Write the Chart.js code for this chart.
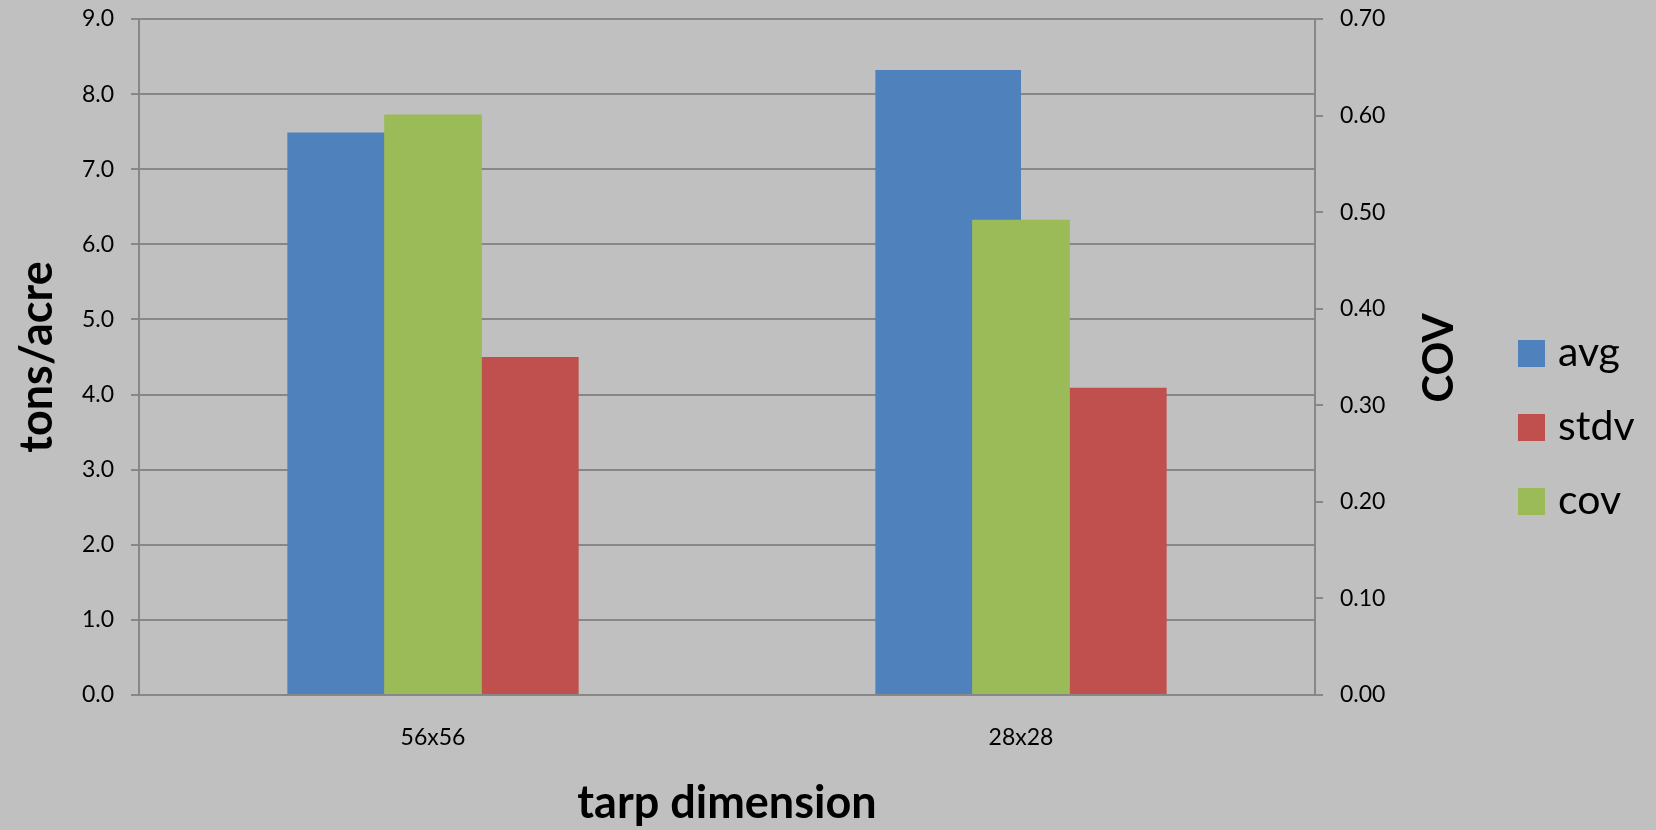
<!DOCTYPE html>
<html>
<head>
<meta charset="utf-8">
<script src="https://cdn.jsdelivr.net/npm/chart.js@4.4.0/dist/chart.umd.min.js"></script>
<style>
  body { margin: 0; background: #c0c0c0; }
  #wrap { width: 1656px; height: 830px; position: relative; }
</style>
</head>
<body>
<div id="wrap"><canvas id="chart"></canvas></div>
<script>
// data
const categories = ["56x56", "28x28"];
const avgValues = [7.49, 8.32];
const stdvValues = [4.50, 4.09];
const covValues = [0.601, 0.492];
const tonsTicks = ["0.0", "1.0", "2.0", "3.0", "4.0", "5.0", "6.0", "7.0", "8.0", "9.0"];
const covTicks = ["0.00", "0.10", "0.20", "0.30", "0.40", "0.50", "0.60", "0.70"];

const gray = "#878787";
Chart.defaults.font.family = "Lato";
Chart.defaults.color = "#000";

// legend + right axis title (Excel draws it reading bottom to top)
const extraText = {
    id: "extraText",
    afterDraw(chart) {
        const ctx = chart.ctx;
        ctx.save();
        ctx.fillStyle = "#000";
        ctx.translate(1439, 358);
        ctx.rotate(-Math.PI / 2);
        ctx.font = "bold 42px Lato";
        ctx.textAlign = "center";
        ctx.textBaseline = "middle";
        ctx.fillText("COV", 0, 0);
        ctx.restore();

        ctx.save();
        ctx.font = "41px Lato";
        ctx.textBaseline = "alphabetic";
        chart.data.datasets.forEach((ds, i) => {
            const top = 340 + i * 74;
            ctx.fillStyle = ds.backgroundColor;
            ctx.fillRect(1518, top, 27, 27);
            ctx.fillStyle = "#000";
            ctx.fillText(ds.label, 1558, top + 26);
        });
        ctx.restore();
    }
};

const noPad = s => { s.paddingTop = 0; s.paddingBottom = 0; };

new Chart(document.getElementById("chart"), {
    type: "bar",
    data: {
        labels: categories,
        datasets: [
            { label: "avg", data: avgValues, backgroundColor: "#4f81bd", yAxisID: "y", order: 1 },
            { label: "stdv", data: stdvValues, backgroundColor: "#c0504d", yAxisID: "y", order: 1 },
            // secondary-axis series sits centred over the pair, like Excel does
            { label: "cov", data: covValues, backgroundColor: "#9bbb59", yAxisID: "y1", order: 0,
              grouped: false, categoryPercentage: 0.1662, barPercentage: 1 }
        ]
    },
    options: {
        responsive: true,
        maintainAspectRatio: false,
        animation: false,
        events: [],
        categoryPercentage: 0.4954,
        barPercentage: 1,
        layout: { padding: { top: 19, left: 0, right: 0, bottom: 0 } },
        plugins: { legend: { display: false }, tooltip: { enabled: false } },
        scales: {
            x: {
                type: "category",
                offset: true,
                grid: { display: false, drawTicks: false },
                border: { display: true, color: gray, width: 2 },
                ticks: { font: { size: 23 }, padding: 29 },
                title: { display: true, text: "tarp dimension", font: { size: 45, weight: "bold" }, padding: { bottom: 0, top: 0 } },
                afterFit: s => { s.height = 135; s.paddingLeft = 0; s.paddingRight = 0; }
            },
            y: {
                position: "left",
                min: 0, max: 9,
                ticks: { stepSize: 1, font: { size: 23 }, padding: 17, callback: (v, i) => tonsTicks[i] },
                grid: { color: gray, lineWidth: 2, tickLength: 8 },
                border: { display: true, color: gray, width: 2 },
                title: { display: true, text: "tons/acre", font: { size: 45, weight: "bold" }, padding: { top: 10, bottom: 0 } },
                afterFit: s => { s.width = 139; noPad(s); }
            },
            y1: {
                position: "right",
                min: 0, max: 0.7,
                ticks: { stepSize: 0.1, font: { size: 23 }, padding: 17, callback: (v, i) => covTicks[i] },
                grid: { drawOnChartArea: false, color: gray, lineWidth: 2, tickLength: 8 },
                border: { display: true, color: gray, width: 2 },
                afterFit: s => { s.width = 1656 - 1315; noPad(s); }
            }
        }
    },
    plugins: [extraText]
});
</script>
</body>
</html>
